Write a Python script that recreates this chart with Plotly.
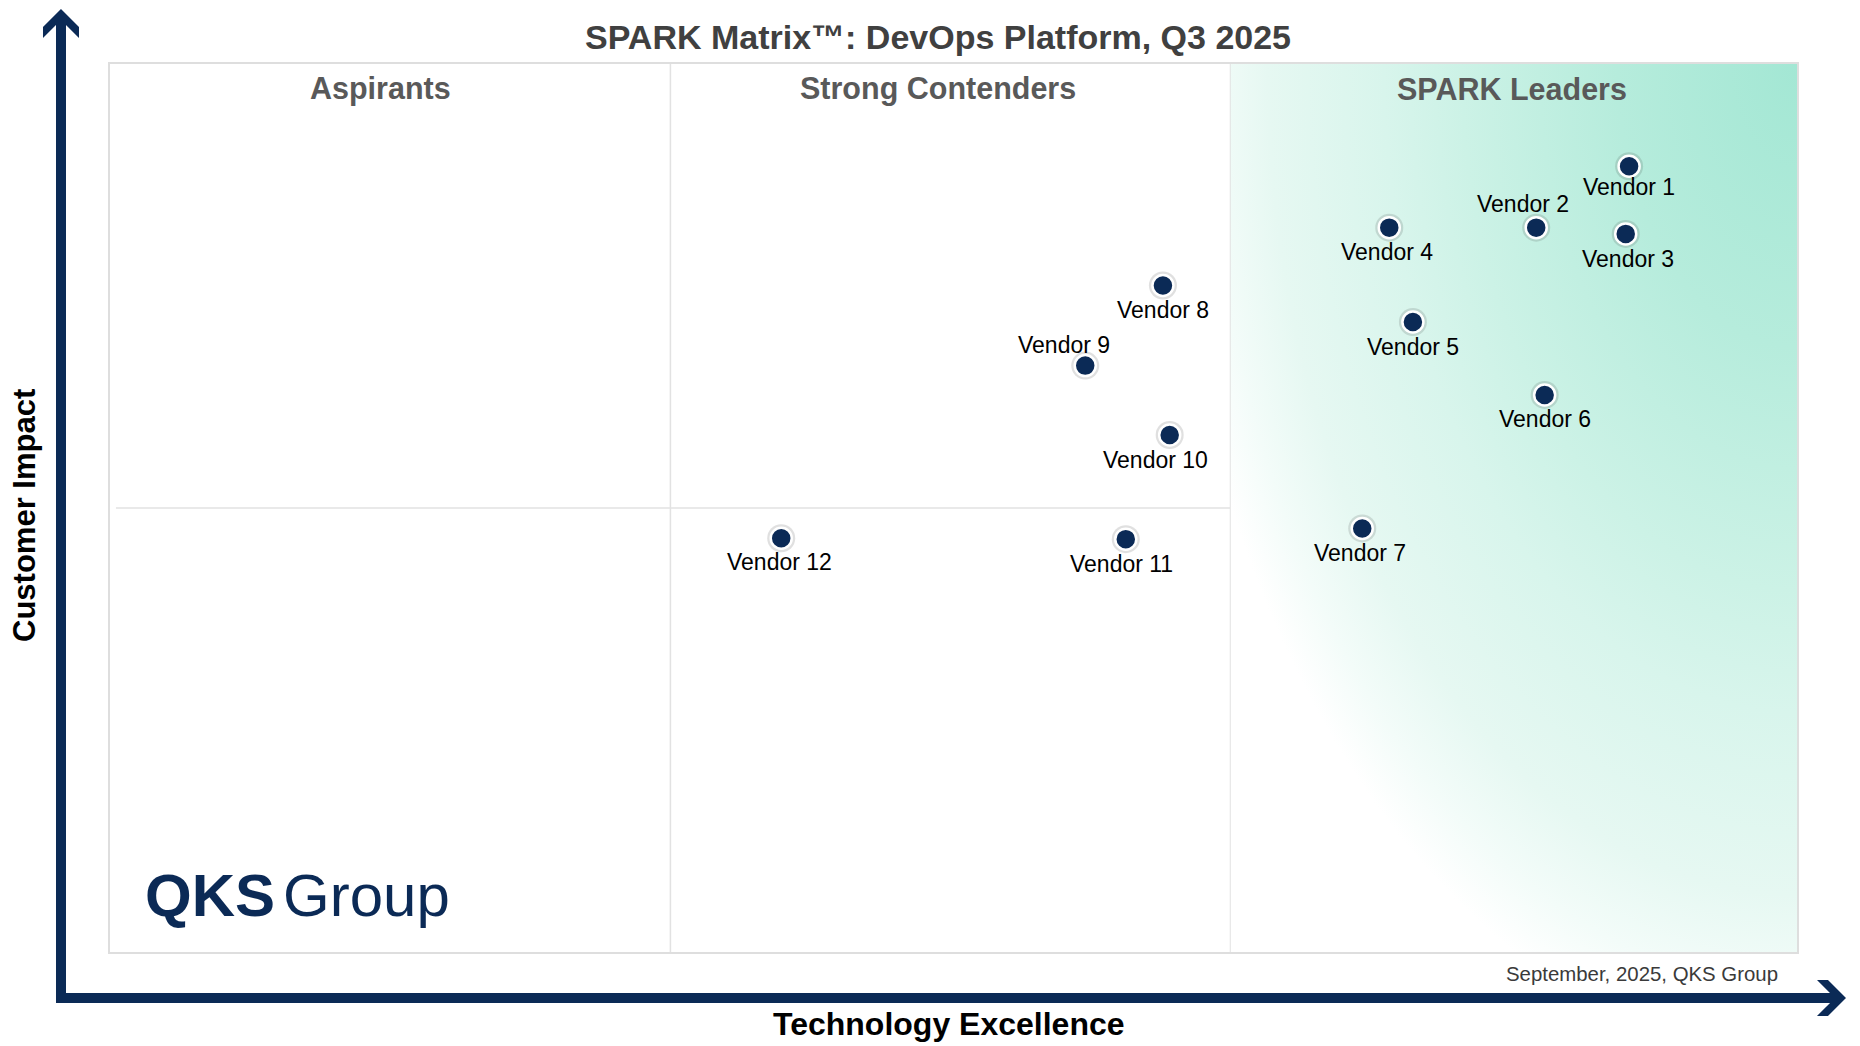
import base64
import plotly.graph_objects as go

# ---------------- data ----------------
vendors = ["Vendor 1", "Vendor 2", "Vendor 3", "Vendor 4", "Vendor 5", "Vendor 6",
           "Vendor 7", "Vendor 8", "Vendor 9", "Vendor 10", "Vendor 11", "Vendor 12"]
tech_excellence = [90.0, 84.5, 89.8, 75.8, 77.2, 85.0, 74.2, 62.4, 57.8, 62.8, 60.2, 39.8]
customer_impact = [88.4, 81.5, 80.8, 81.5, 70.9, 62.7, 47.7, 75.0, 66.0, 58.2, 46.5, 46.6]

quadrant_names = ["Aspirants", "Strong Contenders", "SPARK Leaders"]
quadrant_centers = [16.1, 49.06, 83.07]
x_dividers = [33.24, 66.4]
y_divider = 50

title_text = "SPARK Matrix™: DevOps Platform, Q3 2025"
x_title = "Technology Excellence"
y_title = "Customer Impact"
footer_text = "September, 2025, QKS Group"

# ---------------- style ----------------
W, H = 1860, 1046
ML, MR, MT, MB = 109, 62, 63, 93
PW, PH = W - ML - MR, H - MT - MB
NAVY = "#0b2a56"
FONT = "Liberation Sans, Arial, Helvetica, sans-serif"

# label offsets (pixels) : (xshift, yshift)
label_offsets = [(0, -21), (-13, 24), (2, -25), (-2, -24), (0, -25), (0, -24),
                 (-2, -25), (0, -24), (-21, 21), (-14, -25), (-4, -25), (-2, -24)]


def px2paper(px, py):
    return (px - ML) / PW, (MT + PH - py) / PH


fig = go.Figure()

# gradient background for the leaders column (SVG image)
colw = int(round(PW * (100 - x_dividers[1]) / 100))
svg = f'''<svg xmlns="http://www.w3.org/2000/svg" width="{colw}" height="{PH}" viewBox="0 0 {colw} {PH}" preserveAspectRatio="none">
<defs><radialGradient id="g" gradientUnits="objectBoundingBox" cx="1" cy="0" r="1.14" fx="1" fy="0">
<stop offset="0" stop-color="#a3e7d4"/>
<stop offset="0.28" stop-color="#b6ecdc"/>
<stop offset="0.52" stop-color="#ccf2e6"/>
<stop offset="0.64" stop-color="#d8f5ec"/>
<stop offset="0.82" stop-color="#e6f8f2"/>
<stop offset="0.91" stop-color="#f3fcf9"/>
<stop offset="0.98" stop-color="#ffffff"/>
</radialGradient></defs>
<rect x="0" y="0" width="{colw}" height="{PH}" fill="url(#g)"/></svg>'''
src = "data:image/svg+xml;base64," + base64.b64encode(svg.encode()).decode()
fig.add_layout_image(dict(source=src, xref="x", yref="y", x=x_dividers[1], y=100,
                          sizex=100 - x_dividers[1], sizey=100, sizing="stretch",
                          xanchor="left", yanchor="top", layer="below"))

# markers (soft halo + dot)
fig.add_trace(go.Scatter(x=tech_excellence, y=customer_impact, mode="markers",
                         marker=dict(size=28, color="rgba(60,60,60,0.16)", line=dict(width=0)),
                         hoverinfo="skip", showlegend=False))
fig.add_trace(go.Scatter(x=tech_excellence, y=customer_impact, mode="markers",
                         marker=dict(size=21, color=NAVY, line=dict(color="white", width=2.5)),
                         text=vendors, hoverinfo="text", showlegend=False))

annotations = []
for name, xv, yv, (dx, dy) in zip(vendors, tech_excellence, customer_impact, label_offsets):
    annotations.append(dict(x=xv, y=yv, xref="x", yref="y", text=name, showarrow=False,
                            xshift=dx, yshift=dy, font=dict(family=FONT, size=23, color="#000000")))

for name, xc in zip(quadrant_names, quadrant_centers):
    annotations.append(dict(x=xc, y=97.08, xref="x", yref="y", text=f"<b>{name}</b>", showarrow=False,
                            font=dict(family=FONT, size=30.5, color="#595959")))

tx, ty = px2paper(938, 37)
annotations.append(dict(x=tx, y=ty, xref="paper", yref="paper", text=f"<b>{title_text}</b>",
                        showarrow=False, xanchor="center", yanchor="middle",
                        font=dict(family=FONT, size=34, color="#404040")))
ax_, ay_ = px2paper(949, 1024)
annotations.append(dict(x=ax_, y=ay_, xref="paper", yref="paper", text=f"<b>{x_title}</b>",
                        showarrow=False, xanchor="center", yanchor="middle",
                        font=dict(family=FONT, size=32, color="#000000")))
cx_, cy_ = px2paper(24, 516)
annotations.append(dict(x=cx_, y=cy_, xref="paper", yref="paper", text=f"<b>{y_title}</b>",
                        showarrow=False, xanchor="center", yanchor="middle", textangle=-90,
                        font=dict(family=FONT, size=31, color="#000000")))
fx, fy = px2paper(1780, 974)
annotations.append(dict(x=fx, y=fy, xref="paper", yref="paper", text=footer_text,
                        showarrow=False, xanchor="right", yanchor="middle",
                        font=dict(family=FONT, size=20.4, color="#3a3a3a")))
qx, qy = px2paper(143, 895)
annotations.append(dict(x=qx, y=qy, xref="paper", yref="paper", text="<b>QKS</b>",
                        showarrow=False, xanchor="left", yanchor="middle",
                        font=dict(family=FONT, size=60, color=NAVY)))
gx, gy = px2paper(281, 895)
annotations.append(dict(x=gx, y=gy, xref="paper", yref="paper", text="Group",
                        showarrow=False, xanchor="left", yanchor="middle",
                        font=dict(family=FONT, size=60, color=NAVY)))

shapes = []
# plot frame
shapes.append(dict(type="rect", xref="paper", yref="paper", x0=0, y0=0, x1=1, y1=1,
                   line=dict(color="#dedede", width=2), layer="above"))
for xd in x_dividers:
    shapes.append(dict(type="line", xref="x", yref="y", x0=xd, x1=xd, y0=0, y1=100,
                       line=dict(color="#e2e2e2", width=1.5), layer="below"))
shapes.append(dict(type="line", xref="x", yref="y", x0=0.41, x1=100.36, y0=y_divider, y1=y_divider,
                   line=dict(color="#e2e2e2", width=1.5), layer="below"))

# axis arrows (L-shaped polygon)
pts = [(56, 1003), (56, 25), (43, 38), (43, 27), (61, 9), (79, 27), (79, 38), (66, 25),
       (66, 993), (1830, 993), (1817, 980), (1828, 980), (1846, 998), (1828, 1016),
       (1817, 1016), (1830, 1003)]
pp = [px2paper(a, b) for a, b in pts]
path = "M " + " L ".join(f"{a:.5f},{b:.5f}" for a, b in pp) + " Z"
shapes.append(dict(type="path", xref="paper", yref="paper", path=path,
                   fillcolor=NAVY, line=dict(width=0), layer="above"))

fig.update_layout(
    width=W, height=H,
    margin=dict(l=ML, r=MR, t=MT, b=MB, pad=0),
    paper_bgcolor="white", plot_bgcolor="rgba(0,0,0,0)",
    xaxis=dict(range=[0, 100], visible=False, fixedrange=True),
    yaxis=dict(range=[0, 100], visible=False, fixedrange=True),
    annotations=annotations, shapes=shapes, showlegend=False,
    font=dict(family=FONT),
)

fig.write_html("out.html", config={"displayModeBar": False},
               post_script="document.body.style.margin='0';document.body.style.overflow='hidden';")
